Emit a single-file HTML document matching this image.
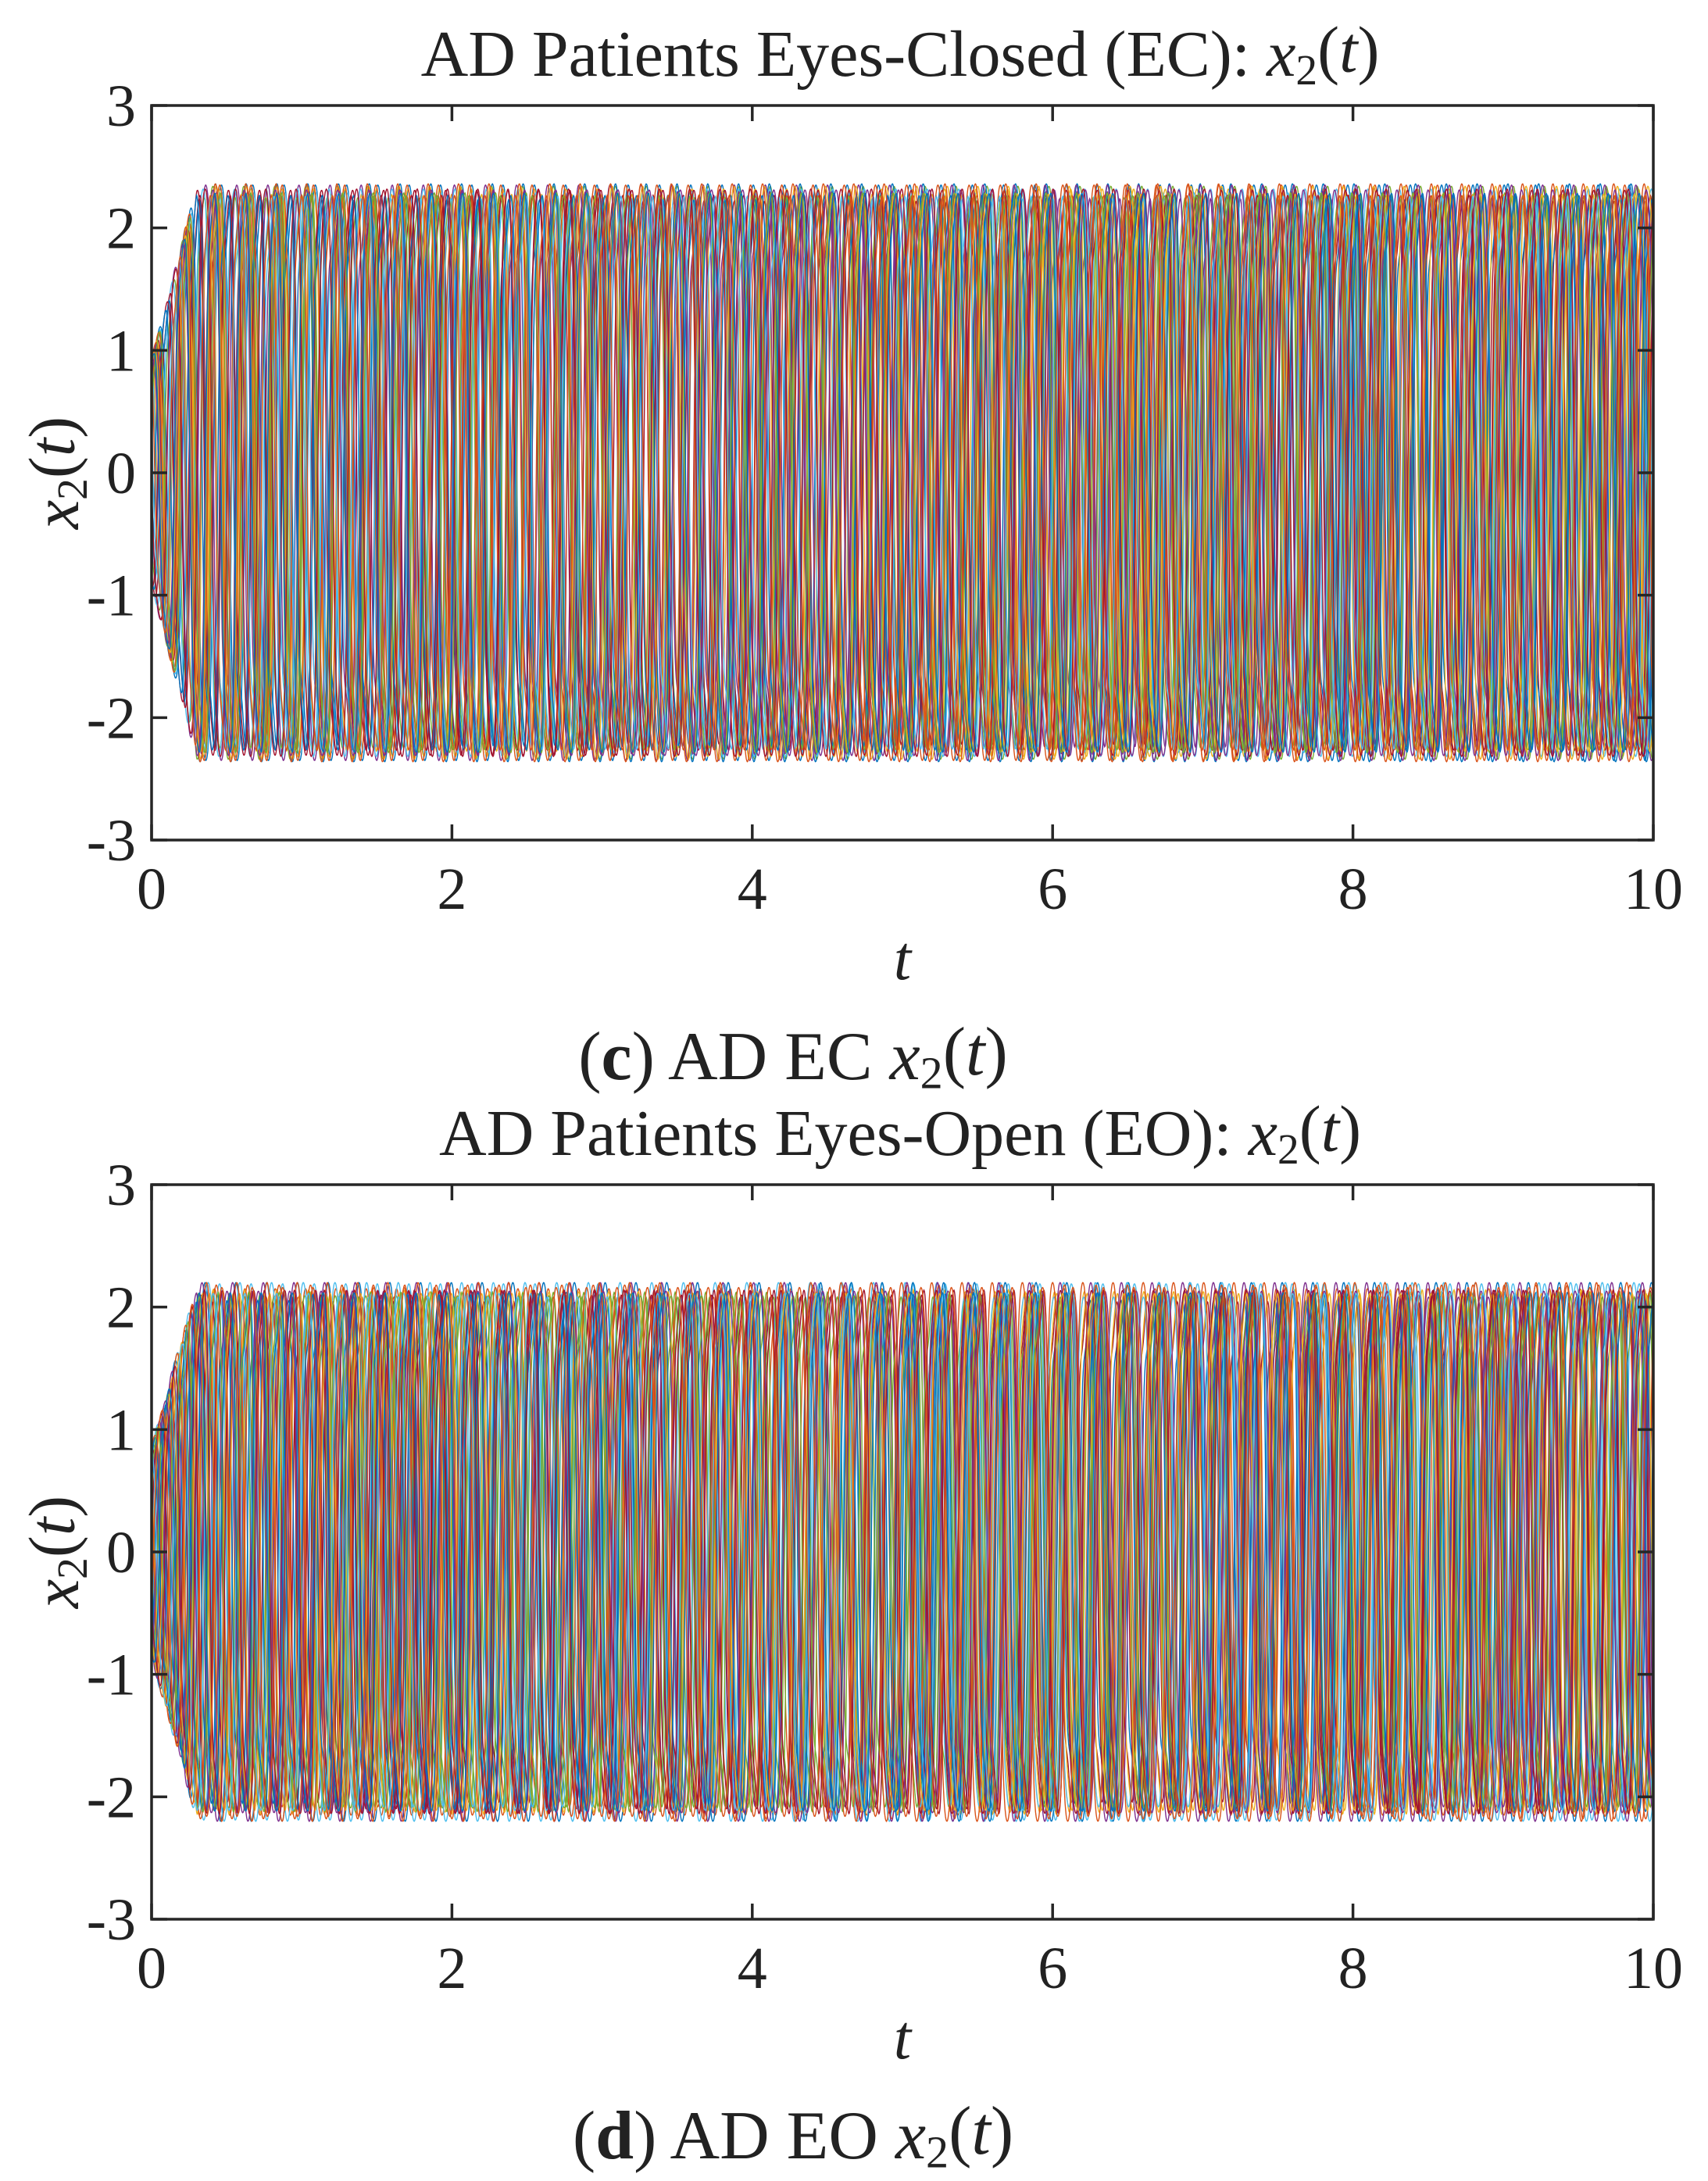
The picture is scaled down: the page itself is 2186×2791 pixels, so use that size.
<!DOCTYPE html>
<html><head><meta charset="utf-8">
<style>
body{margin:0;background:#fff;}
svg text{font-family:"Liberation Serif",serif;fill:#222;}
</style></head>
<body>
<svg id="fig" width="2186" height="2786" viewBox="0 0 2186 2786" xmlns="http://www.w3.org/2000/svg">
<rect width="2186" height="2786" fill="#fff"/>
<g id="p1"></g>
<g id="p2"></g>
</svg>
<script>
const xTicks=[0,2,4,6,8,10];
const yTicks=[-3,-2,-1,0,1,2,3];
const xTickLabels=["0","2","4","6","8","10"];
const yTickLabels=["-3","-2","-1","0","1","2","3"];
// per-trace oscillator parameters (peak amplitude, cycles/s, phase, harmonic share)
const ecAmps=[2.35,2.33,2.36,2.30,2.34,2.35,2.28,2.36,2.32,2.34,2.35,2.31,2.36,2.33,2.29,2.35,2.34,2.36,2.32,2.30,2.35,2.33,2.36,2.34,2.31,2.35,2.32,2.36,2.34,2.33];
const ecFreqs=[4.80,4.92,4.76,4.98,4.85,4.79,4.95,4.88,4.74,5.00,4.83,4.90,4.77,4.97,4.86,4.81,4.93,4.89,4.75,4.99,4.84,4.78,4.94,4.87,4.82,4.91,4.76,4.96,4.85,4.92];
const ecPhases=[0.1,0.5,0.9,1.3,1.7,0.3,0.7,1.1,1.5,2.0,3.2,3.6,4.0,4.4,4.8,0.4,0.8,1.2,1.6,2.2,5.0,5.5,0.95,1.35,1.75,0.35,2.75,3.15,1.55,2.4];
const ecHarm=[0.0,0.12,0.05,0.15,0.0,0.1,0.15,0.0,0.08,0.12,0.0,0.1,0.05,0.1,0.15,0.0,0.0,0.15,0.08,0.1,0.05,0.12,0.0,0.1,0.0,0.1,0.15,0.05,0.08,0.12];
const eoAmps=[2.18,2.15,2.20,2.12,2.17,2.19,2.10,2.20,2.14,2.18,2.19,2.13,2.20,2.16,2.11,2.18,2.17,2.20,2.14,2.12,2.19,2.16,2.20,2.17,2.13,2.18,2.15,2.20,2.17,2.16];
const eoFreqs=[4.80,4.95,4.72,5.02,4.86,4.76,4.98,4.88,4.70,5.05,4.82,4.92,4.74,5.00,4.87,4.78,4.96,4.90,4.71,5.04,4.84,4.75,4.97,4.89,4.79,4.93,4.73,5.01,4.85,4.94];
const eoPhases=[0.3,1.1,2.4,3.7,5.0,0.6,1.9,3.2,4.5,5.8,0.5,1.6,2.9,4.2,5.5,1.2,2.5,3.8,5.1,6.2,0.0,1.4,2.7,4.0,5.3,0.8,2.1,3.4,4.7,5.9];
const eoHarm=[0.1,0.0,0.15,0.05,0.12,0.0,0.15,0.0,0.1,0.08,0.15,0.05,0.0,0.12,0.15,0.0,0.1,0.0,0.15,0.05,0.08,0.15,0.0,0.1,0.0,0.15,0.05,0.12,0.08,0.0];
const colors=["#0072BD","#D95319","#EDB120","#7E2F8E","#77AC30","#4DBEEE","#A2142F"];
const NS="http://www.w3.org/2000/svg";
function mk(parent,tag,attrs,txt){const e=document.createElementNS(NS,tag);for(const k in attrs)e.setAttribute(k,attrs[k]);if(txt!==undefined)e.textContent=txt;parent.appendChild(e);return e;}
const X2T='<tspan font-style="italic">x</tspan><tspan font-size="0.66em" dy="0.2em">2</tspan><tspan dy="-0.2em">(</tspan><tspan font-style="italic">t</tspan>)';

function panel(g,top,title,capLetter,capMid,amps,freqs,phases,harm,prefix){
  const L=194,R=2116,T=top,B=top+940;
  const sx=t=>L+(t-0)/(10-0)*(R-L);
  const sy=v=>B-(v+3)/6*(B-T);
  const lines=mk(g,"g",{});
  
  
  for(let i=0;i<amps.length;i++){
    let d="";const N=3000;
    for(let j=0;j<=N;j++){
      const t=10*j/N;
      const env=Math.min(1,0.4+t/0.5);
      const ph=2*Math.PI*freqs[i]*t+phases[i];
      const s=(1-harm[i])*Math.sin(ph)+harm[i]*Math.sin(3*ph+1.0);
      let v=amps[i]*env*Math.tanh(1.3*s)/Math.tanh(1.3*(1-harm[i]*0.5));
      v=Math.max(-amps[i],Math.min(amps[i],v));
      d+=(j?"L":"M")+sx(t).toFixed(1)+" "+sy(v).toFixed(1);
    }
    const p=mk(lines,"path",{d:d,fill:"none",stroke:colors[i%colors.length],"stroke-width":1.4});
    
    
  }
  const ax=mk(g,"g",{stroke:"#262626","stroke-width":3.5,fill:"none"});
  
  
  mk(ax,"rect",{x:L,y:T,width:R-L,height:B-T});
  xTicks.forEach((t,k)=>{
    mk(ax,"line",{x1:sx(t),y1:B,x2:sx(t),y2:B-20});
    mk(ax,"line",{x1:sx(t),y1:T,x2:sx(t),y2:T+20});
    const tl=mk(g,"text",{x:sx(t),y:B+88,"text-anchor":"middle","font-size":76},xTickLabels[k]);
    
    
  });
  yTicks.forEach((v,k)=>{
    mk(ax,"line",{x1:L,y1:sy(v),x2:L+20,y2:sy(v)});
    mk(ax,"line",{x1:R,y1:sy(v),x2:R-20,y2:sy(v)});
    const tl=mk(g,"text",{x:174,y:sy(v)+26,"text-anchor":"end","font-size":76},yTickLabels[k]);
    
    
  });
  const tt=mk(g,"text",{x:1152,y:T-38,"text-anchor":"middle","font-size":84});
  
  
  tt.innerHTML=title+': '+X2T;
  const xl=mk(g,"text",{x:1155,y:B+178,"text-anchor":"middle","font-size":80,"font-style":"italic"},"t");
  
  
  const yl=mk(g,"text",{x:0,y:0,"text-anchor":"middle","font-size":84,transform:"translate(100,"+((T+B)/2)+") rotate(-90)"});
  
  
  yl.innerHTML=X2T;
  const cp=mk(g,"text",{x:1015,y:B+306,"text-anchor":"middle","font-size":88});
  
  
  cp.innerHTML='(<tspan font-weight="bold">'+capLetter+'</tspan>) '+capMid+' '+X2T;
}
panel(document.getElementById('p1'),135,"AD Patients Eyes-Closed (EC)","c","AD EC",ecAmps,ecFreqs,ecPhases,ecHarm,"ec");
panel(document.getElementById('p2'),1516,"AD Patients Eyes-Open (EO)","d","AD EO",eoAmps,eoFreqs,eoPhases,eoHarm,"eo");
</script>
</body></html>
